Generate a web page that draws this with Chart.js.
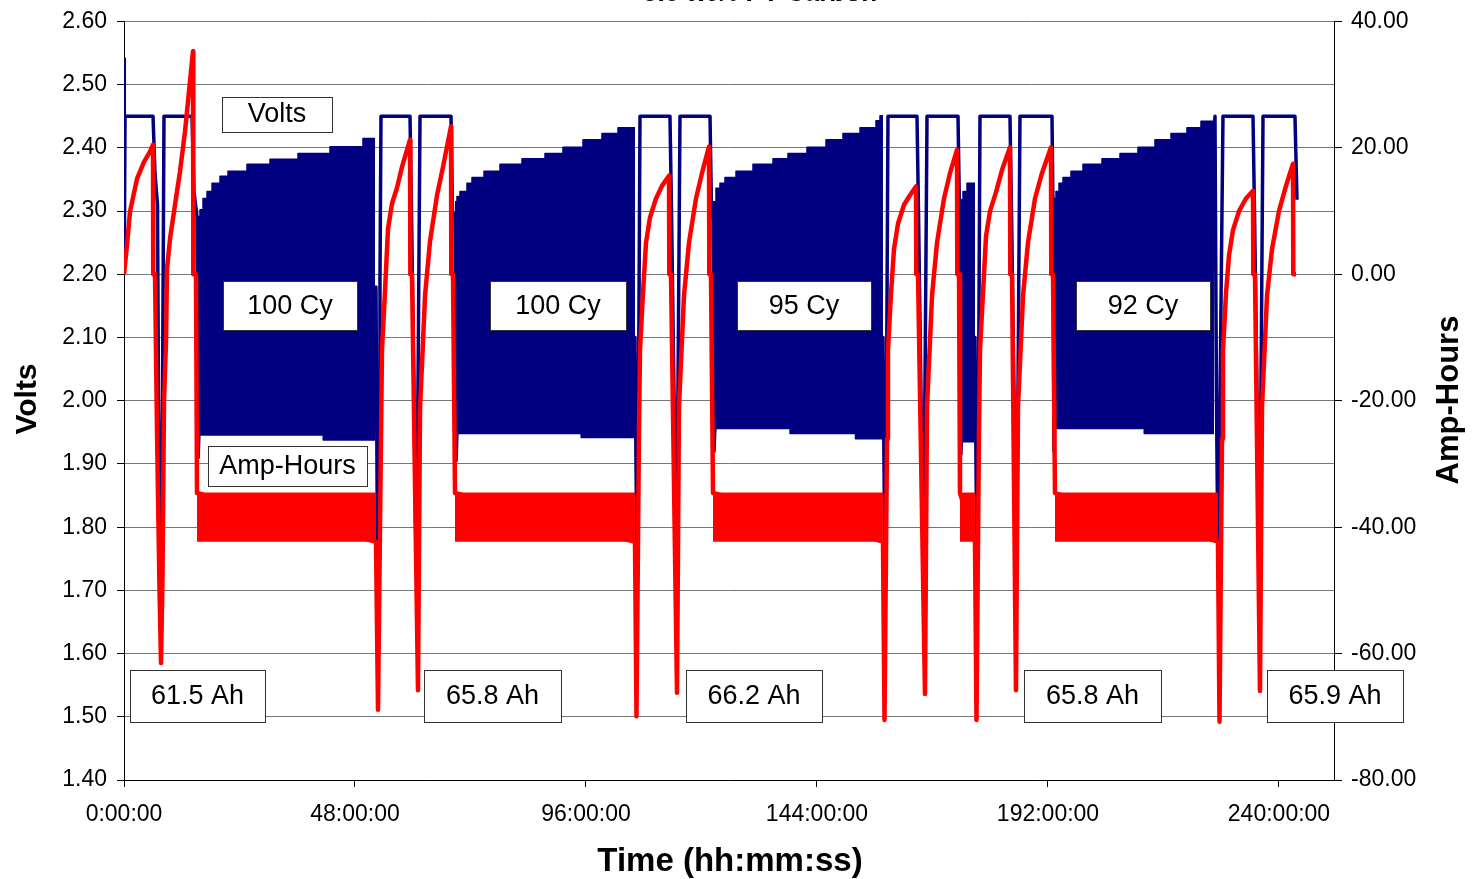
<!DOCTYPE html>
<html>
<head>
<meta charset="utf-8">
<title>Volts / Amp-Hours cycling</title>
<script src="https://cdn.jsdelivr.net/npm/chart.js@4.4.1/dist/chart.umd.min.js"></script>
<style>
  html, body { margin: 0; padding: 0; background: #fff; }
  canvas { display: block; }
</style>
</head>
<body>
<canvas id="cycleChart" width="1472" height="879"></canvas>
<script>
// Volts (left axis) and Amp-Hours (right axis) against test time in hours

const chartTitle = '5.0 wt% PT Carbon';

const xTicks = [0, 48, 96, 144, 192, 240];
const xTickLabels = ['0:00:00', '48:00:00', '96:00:00', '144:00:00', '192:00:00', '240:00:00'];
const voltTicks = [1.4, 1.5, 1.6, 1.7, 1.8, 1.9, 2.0, 2.1, 2.2, 2.3, 2.4, 2.5, 2.6];
const ahTicks = [-80, -60, -40, -20, 0, 20, 40];

// [hours, volts]
const volts = [
    [0.00, 2.541], [0.06, 2.215], [0.21, 2.450], [6.03, 2.450], [6.44, 2.360], [6.96, 2.310],
    [7.17, 2.000], [7.48, 1.745], [7.79, 1.800], [8.00, 2.000], [8.31, 2.450], [14.13, 2.450],
    [14.55, 2.330], [15.17, 2.291], [15.40, 1.910], [15.80, 2.000],
    [52.16, 2.100], [52.36, 2.180], [52.68, 1.745], [52.99, 2.000], [53.19, 2.190], [53.40, 2.450],
    [59.43, 2.450], [59.74, 2.300], [60.26, 2.010], [60.68, 1.745], [61.09, 2.020], [61.51, 2.450],
    [67.95, 2.450], [68.26, 2.300], [68.78, 2.290], [69.00, 1.905], [69.40, 2.000],
    [106.18, 2.100], [106.39, 1.900], [106.60, 1.745], [106.91, 2.000], [107.22, 2.450],
    [113.45, 2.450], [113.77, 2.300], [114.29, 2.010], [114.70, 1.745], [115.12, 2.020], [115.53, 2.450],
    [121.77, 2.450], [122.08, 2.300], [122.39, 2.290], [122.60, 1.920], [123.00, 2.000],
    [157.71, 2.100], [157.92, 1.900], [158.13, 1.745], [158.44, 2.000], [158.75, 2.450],
    [164.78, 2.450], [165.09, 2.300], [165.61, 2.010], [166.03, 1.745], [166.44, 2.020], [166.86, 2.450],
    [173.30, 2.450], [173.61, 2.300], [173.71, 2.290], [173.90, 1.915], [174.30, 2.000],
    [176.83, 2.100], [177.04, 1.900], [177.25, 1.745], [177.56, 2.000], [177.87, 2.450],
    [184.10, 2.450], [184.42, 2.300], [184.94, 2.010], [185.35, 1.745], [185.77, 2.020], [186.18, 2.450],
    [192.83, 2.450], [193.04, 2.300], [193.25, 1.920], [193.60, 2.000],
    [226.49, 2.420], [226.70, 2.450], [227.01, 2.000], [227.32, 1.745], [227.74, 2.000], [228.36, 2.450],
    [234.60, 2.450], [234.91, 2.300], [235.43, 2.010], [235.84, 1.745], [236.26, 2.020], [236.68, 2.450],
    [243.32, 2.450], [243.74, 2.318]
];

// [hours, amp-hours]
const ampHours = [
    [0.00, 0.0], [0.62, 4.6], [1.25, 9.9], [2.70, 15.1], [4.16, 17.8], [5.40, 19.4], [6.03, 20.5],
    [6.07, 0.0], [6.44, 0.0], [6.86, -25.0], [7.38, -50.0], [7.69, -61.5], [8.00, -48.0], [8.31, -20.2],
    [8.73, -10.7], [8.94, 0.9], [9.56, 5.6], [10.60, 11.0], [11.64, 16.3], [12.68, 22.6], [13.71, 30.5],
    [14.34, 35.3], [14.40, 0.0], [14.96, 0.0], [15.17, -34.6],
    [52.36, -42.3], [52.78, -68.9], [53.40, -25.9], [53.61, -11.9], [54.23, -2.7], [54.86, 7.2],
    [55.69, 11.2], [56.73, 13.7], [57.77, 17.0], [59.43, 21.3], [59.50, 0.0], [59.84, 0.0],
    [61.09, -65.8], [61.51, -21.3], [62.55, -3.4], [63.58, 5.2], [65.04, 12.5], [66.29, 17.0],
    [67.95, 23.4], [68.01, 0.0], [68.36, 0.0], [68.78, -34.6],
    [106.18, -42.3], [106.49, -69.9], [107.01, -25.0], [107.22, -12.0], [107.84, -3.0], [108.47, 5.0],
    [109.30, 9.0], [110.55, 12.0], [111.79, 14.0], [113.25, 15.6], [113.31, 0.0], [113.66, 0.0],
    [114.91, -66.2], [115.32, -21.0], [116.36, -3.4], [117.40, 5.0], [118.86, 12.0], [120.10, 16.0],
    [121.56, 20.2], [121.62, 0.0], [121.97, 0.0], [122.39, -34.6],
    [157.71, -42.3], [158.03, -70.5], [158.55, -26.0], [158.75, -12.0], [159.38, -3.0], [160.00, 4.0],
    [160.83, 8.0], [162.08, 11.0], [163.32, 12.5], [164.57, 13.9], [164.63, 0.0], [164.99, 0.0],
    [166.44, -66.4], [166.86, -21.0], [167.90, -3.4], [168.94, 5.0], [170.39, 12.0], [171.64, 16.0],
    [173.09, 19.7], [173.15, 0.0], [173.51, 0.0], [173.71, -34.6],
    [176.83, -42.3], [177.14, -70.5], [177.66, -25.0], [177.87, -12.0], [178.49, -3.0], [179.12, 6.0],
    [179.95, 10.0], [181.20, 13.0], [182.44, 16.5], [184.10, 20.1], [184.17, 0.0], [184.52, 0.0],
    [185.35, -65.8], [185.77, -21.0], [186.81, -3.4], [187.84, 5.0], [189.30, 12.0], [190.75, 16.0],
    [192.62, 20.1], [192.68, 0.0], [193.04, 0.0], [193.45, -34.6],
    [227.32, -42.3], [227.64, -70.8], [228.16, -26.0], [228.36, -12.0], [228.99, -3.0], [229.61, 3.0],
    [230.44, 7.0], [231.69, 10.0], [233.14, 12.0], [234.60, 13.2], [234.66, 0.0], [235.01, 0.0],
    [236.05, -65.9], [236.47, -21.0], [237.51, -3.4], [238.55, 4.0], [240.00, 10.0], [241.45, 14.0],
    [242.91, 17.5], [242.97, 0.0], [243.53, 0.0]
];

// cycling blocks: upper and lower voltage envelope, [hours, volts], value holds until next point
const blockATop = [[15.17, 2.291], [15.79, 2.302], [16.42, 2.320], [17.25, 2.331], [18.29, 2.344], [19.95, 2.355],
    [21.61, 2.363], [25.56, 2.374], [30.34, 2.382], [36.16, 2.391], [42.81, 2.402], [49.66, 2.415], [52.16, 2.415]];
const blockABottom = [[15.17, 1.946], [41.40, 1.938], [52.16, 1.938]];

const blockBTop = [[68.78, 2.315], [69.19, 2.323], [69.82, 2.331], [71.27, 2.344], [72.31, 2.353], [74.81, 2.363],
    [78.13, 2.374], [82.70, 2.383], [87.48, 2.391], [91.22, 2.401], [95.38, 2.413], [99.32, 2.423],
    [102.65, 2.432], [106.18, 2.432]];
const blockBBottom = [[68.78, 1.948], [95.00, 1.942], [106.18, 1.942]];

const blockCTop = [[122.39, 2.315], [123.01, 2.336], [123.84, 2.344], [124.88, 2.353], [127.17, 2.363],
    [130.70, 2.374], [134.86, 2.383], [137.97, 2.391], [141.92, 2.401], [145.87, 2.413], [149.40, 2.423],
    [152.94, 2.432], [156.26, 2.443], [157.09, 2.451], [157.71, 2.451]];
const blockCBottom = [[122.39, 1.956], [138.40, 1.948], [152.00, 1.940], [157.71, 1.940]];

const blockSTop = [[173.71, 2.318], [174.34, 2.331], [175.17, 2.344], [176.83, 2.344]];
const blockSBottom = [[173.71, 1.935], [176.83, 1.935]];

const blockDTop = [[193.04, 2.320], [193.66, 2.331], [194.29, 2.344], [195.12, 2.353], [196.78, 2.363],
    [199.27, 2.374], [203.22, 2.383], [206.96, 2.391], [210.70, 2.401], [214.23, 2.413], [217.56, 2.423],
    [220.88, 2.432], [223.79, 2.442], [226.49, 2.442]];
const blockDBottom = [[193.04, 1.956], [212.00, 1.948], [226.49, 1.948]];

// amp-hour swing during cycling: [start hours, end hours]
const ahBlocks = [[15.17, 52.36], [68.78, 106.18], [122.39, 157.71], [173.71, 176.83], [193.45, 227.32]];
const ahBlockHigh = -34.6;
const ahBlockLow = -42.3;

const boxTexts = ['Volts', '100 Cy', '100 Cy', '95 Cy', '92 Cy', 'Amp-Hours',
    '61.5 Ah', '65.8 Ah', '66.2 Ah', '65.8 Ah', '65.9 Ah'];

const NAVY = '#000080';
const RED = '#ff0000';
const FONT = '"Liberation Sans", Arial, Helvetica, sans-serif';

const toXY = arr => arr.map(p => ({ x: p[0], y: p[1] }));

// text boxes: centre in data units (hours, volts), size in px
const boxPlaces = [
    { h: 31.79, v: 2.4536, w: 110, ht: 35 },
    { h: 34.49, v: 2.1512, w: 134, ht: 49 },
    { h: 90.18, v: 2.1512, w: 136, ht: 49 },
    { h: 141.30, v: 2.1512, w: 134, ht: 49 },
    { h: 211.74, v: 2.1512, w: 134, ht: 49 },
    { h: 33.97, v: 1.8971, w: 159, ht: 40 },
    { h: 15.27, v: 1.533, w: 135, ht: 52 },
    { h: 76.57, v: 1.533, w: 137, ht: 52 },
    { h: 130.91, v: 1.533, w: 136, ht: 52 },
    { h: 201.25, v: 1.533, w: 137, ht: 52 },
    { h: 251.64, v: 1.533, w: 136, ht: 52 }
];

const decorPlugin = {
    id: 'decor',
    afterDraw(chart) {
        const { ctx } = chart;
        const xs = chart.scales.x, ys = chart.scales.y;
        ctx.save();
        ctx.fillStyle = '#000';

        // title, mostly cut off by the top edge
        ctx.font = 'bold 26px ' + FONT;
        ctx.textAlign = 'center';
        ctx.textBaseline = 'alphabetic';
        ctx.fillText(chartTitle, 760, 1);

        // axis titles
        ctx.textBaseline = 'middle';
        ctx.font = 'bold 33px ' + FONT;
        ctx.fillText('Time (hh:mm:ss)', 730, 862);

        ctx.font = 'bold 30px ' + FONT;
        ctx.save();
        ctx.translate(28, 399);
        ctx.rotate(-Math.PI / 2);
        ctx.fillText('Volts', 0, 0);
        ctx.restore();

        ctx.save();
        ctx.translate(1449, 400);
        ctx.rotate(-Math.PI / 2);
        ctx.font = 'bold 31px ' + FONT;
        ctx.fillText('Amp-Hours', 0, 0);
        ctx.restore();

        // labelled boxes
        ctx.font = '27px ' + FONT;
        boxPlaces.forEach((b, i) => {
            const cx = xs.getPixelForValue(b.h);
            const cy = ys.getPixelForValue(b.v);
            const left = Math.round(cx - b.w / 2), top = Math.round(cy - b.ht / 2);
            ctx.fillStyle = '#fff';
            ctx.fillRect(left, top, b.w, b.ht);
            ctx.strokeStyle = '#333';
            ctx.lineWidth = 1;
            ctx.strokeRect(left + 0.5, top + 0.5, b.w, b.ht);
            ctx.fillStyle = '#000';
            ctx.fillText(boxTexts[i], cx, cy + 1);
        });
        ctx.restore();
    }
};

const datasets = [];

datasets.push({
    label: 'Amp-Hours',
    data: toXY(ampHours),
    yAxisID: 'y2',
    borderColor: RED,
    borderWidth: 4.5,
    order: 0
});

ahBlocks.forEach(b => {
    datasets.push({
        data: [{ x: b[0], y: ahBlockHigh }, { x: b[1], y: ahBlockHigh }],
        yAxisID: 'y2',
        borderColor: RED,
        backgroundColor: RED,
        borderWidth: 1,
        fill: { value: ahBlockLow },
        order: 1
    });
});

datasets.push({
    label: 'Volts',
    data: toXY(volts),
    yAxisID: 'y',
    borderColor: NAVY,
    borderWidth: 3.5,
    order: 2
});

[[blockATop, blockABottom], [blockBTop, blockBBottom], [blockCTop, blockCBottom],
 [blockSTop, blockSBottom], [blockDTop, blockDBottom]].forEach(([top, bottom]) => {
    const bottomIndex = datasets.length + 1;
    datasets.push({
        data: toXY(top),
        yAxisID: 'y',
        stepped: true,
        borderColor: NAVY,
        backgroundColor: NAVY,
        borderWidth: 1.5,
        fill: bottomIndex,
        order: 3
    });
    datasets.push({
        data: toXY(bottom),
        yAxisID: 'y',
        stepped: true,
        borderColor: NAVY,
        borderWidth: 1.5,
        fill: false,
        order: 3
    });
});

Chart.defaults.font.family = FONT;
Chart.defaults.font.size = 23;
Chart.defaults.color = '#000';

new Chart(document.getElementById('cycleChart'), {
    type: 'line',
    data: { datasets },
    plugins: [decorPlugin],
    options: {
        responsive: false,
        animation: false,
        devicePixelRatio: 1,
        layout: { padding: { top: 20, left: 0, right: 0, bottom: 0 } },
        elements: {
            point: { radius: 0, hoverRadius: 0 },
            line: { tension: 0, borderJoinStyle: 'round', borderCapStyle: 'butt' }
        },
        plugins: {
            legend: { display: false },
            tooltip: { enabled: false },
            title: { display: false }
        },
        scales: {
            x: {
                type: 'linear',
                min: 0,
                max: 251.43,
                afterBuildTicks: s => { s.ticks = xTicks.map(v => ({ value: v })); },
                afterFit: s => { s.height = 99; },
                grid: { drawOnChartArea: false, drawTicks: true, tickLength: 7, tickColor: '#000' },
                border: { display: true, color: '#000', width: 1 },
                ticks: {
                    padding: 14,
                    maxRotation: 0,
                    autoSkip: false,
                    callback: v => xTickLabels[xTicks.indexOf(v)]
                }
            },
            y: {
                type: 'linear',
                position: 'left',
                min: 1.4,
                max: 2.6,
                afterBuildTicks: s => { s.ticks = voltTicks.map(v => ({ value: v })); },
                afterFit: s => { s.width = 124; },
                grid: { color: '#777', lineWidth: 1, drawTicks: true, tickLength: 7, tickColor: '#000' },
                border: { display: true, color: '#000', width: 1 },
                ticks: { padding: 10, autoSkip: false, font: { lineHeight: 1 }, callback: v => v.toFixed(2) }
            },
            y2: {
                type: 'linear',
                position: 'right',
                min: -80,
                max: 40,
                afterBuildTicks: s => { s.ticks = ahTicks.map(v => ({ value: v })); },
                afterFit: s => { s.width = 138; },
                grid: { drawOnChartArea: false, drawTicks: true, tickLength: 8, tickColor: '#000' },
                border: { display: true, color: '#000', width: 1 },
                ticks: { padding: 9, autoSkip: false, font: { lineHeight: 1 }, callback: v => v.toFixed(2) }
            }
        }
    }
});
</script>
</body>
</html>
